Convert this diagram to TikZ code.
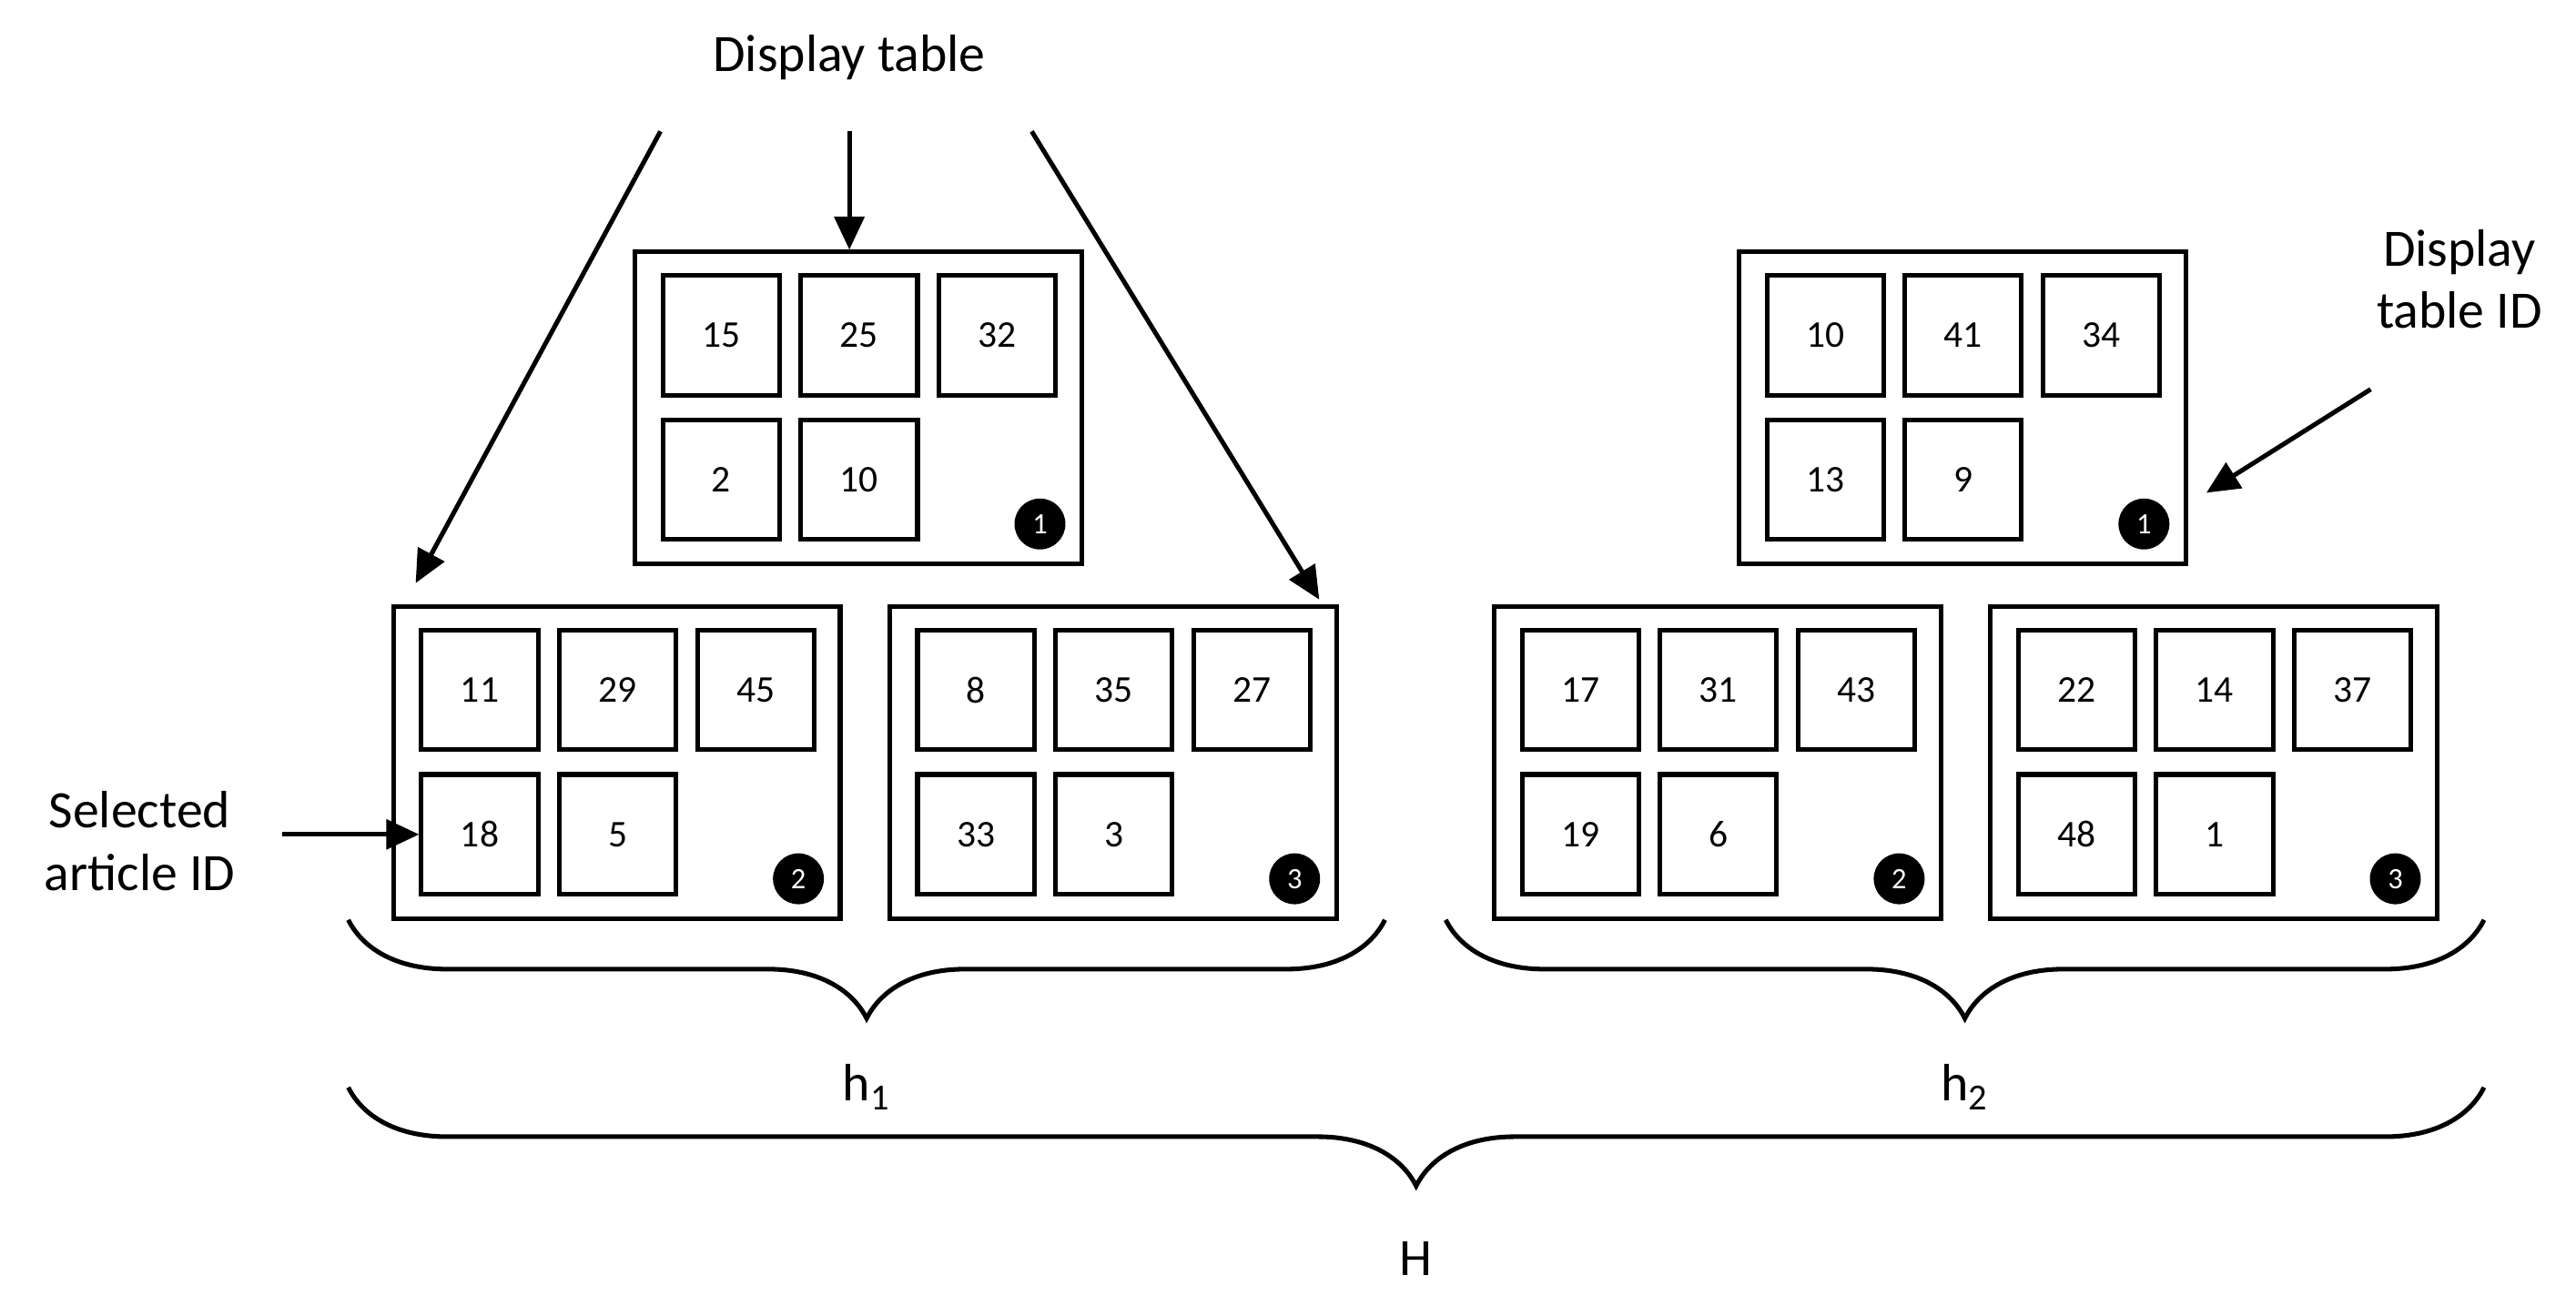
\documentclass[tikz,border=0pt]{standalone}
\usepackage{fontspec}
\setmainfont{Carlito}
\usetikzlibrary{decorations.pathreplacing,arrows.meta}
\begin{document}
\begin{tikzpicture}[x=0.5pt,y=-0.5pt,
  frame/.style={draw,line width=1.4pt,minimum width=136pt,minimum height=95pt,inner sep=0pt},
  cell/.style={draw,line width=1.4pt,minimum width=35.5pt,minimum height=36.5pt,inner sep=0pt,font=\fontsize{11.5}{13}\selectfont},
  badge/.style={circle,fill=black,text=white,minimum size=15.5pt,inner sep=0pt,font=\fontsize{9}{10}\selectfont},
  lbl/.style={font=\fontsize{16}{19}\selectfont,align=center},
  arr/.style={-{Triangle[length=10pt,width=9pt]},line width=1.4pt},
  brc/.style={decorate,decoration={brace,amplitude=30pt,mirror},line width=1.4pt}]
\useasboundingbox (0,0) rectangle (1568,795);

% display tables: name/left/top/badge/cells
\foreach \n/\tx/\ty/\b/\a/\bb/\c/\d/\e in {
  ta/385/152/1/15/25/32/2/10,
  tb/238/368/2/11/29/45/18/5,
  tc/540/368/3/8/35/27/33/3,
  td/1057/152/1/10/41/34/13/9,
  te/908/368/2/17/31/43/19/6,
  tf/1210/368/3/22/14/37/48/1}{
  \node[frame,anchor=north west] (\n) at (\tx,\ty) {};
  \node[cell] (\n-1) at (\tx+54,\ty+52) {\a};
  \node[cell] (\n-2) at (\tx+138,\ty+52) {\bb};
  \node[cell] (\n-3) at (\tx+222,\ty+52) {\c};
  \node[cell] (\n-4) at (\tx+54,\ty+140) {\d};
  \node[cell] (\n-5) at (\tx+138,\ty+140) {\e};
  \node[badge] (\n-b) at (\tx+248,\ty+167) {\b};
}

% labels
\node[lbl] (dt) at (517,35) {Display table};
\node[lbl] (dtid) at (1497,170) {Display\\table ID};
\node[lbl] (said) at (85,512) {Selected\\article ID};

\coordinate (p1) at (402,80);
\coordinate (p2) at (517,80);
\coordinate (p3) at (628,80);
\coordinate (p4) at (1443,237);
\coordinate (p5) at (172,508);
\draw[arr] (p2) -- (ta.north -| p2);
\draw[arr] (p1) -- (253,355);
\draw[arr] (p3) -- (803,365);
\draw[arr] (p4) -- (1343,300);
\draw[arr] (p5) -- (p5 -| tb-4.west);

% braces
\draw[brc] (212,560) -- node[below=40pt,lbl] (h1) {h\textsubscript{1}} (843,560);
\draw[brc] (880,560) -- node[below=40pt,lbl] (h2) {h\textsubscript{2}} (1512,560);
\draw[brc] (212,662) -- node[below=43pt,lbl] (hh) {H} (1512,662);
\end{tikzpicture}
\end{document}
